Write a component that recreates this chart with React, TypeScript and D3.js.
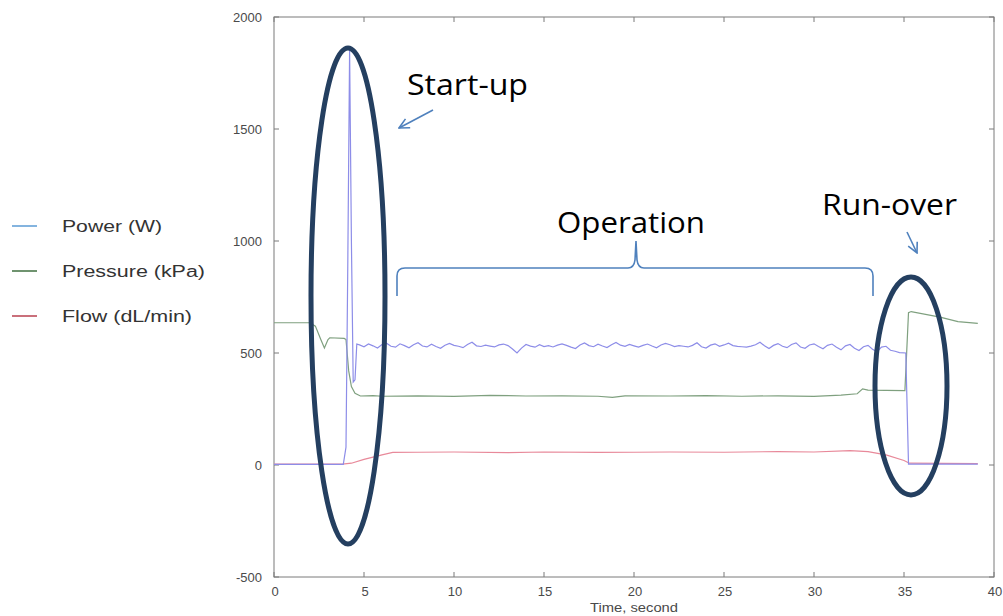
import React from "react";
import * as d3 from "d3";

// ---------- data ----------
const xTicks = [0, 5, 10, 15, 20, 25, 30, 35, 40];
const yTicks = [-500, 0, 500, 1000, 1500, 2000];

const legendLabels = ["Power (W)", "Pressure (kPa)", "Flow (dL/min)"];

// Power (W): start-up section
const powerStartT = [0, 3.85, 4.0, 4.1, 4.2, 4.3, 4.4, 4.5, 4.6];
const powerStartV = [3, 3, 80, 900, 1850, 1000, 370, 380, 540];
// Power: operation section, sampled every 0.25 s from 4.75 s
const powerOpStart = 4.75;
const powerOpStep = 0.25;
const powerOpV = [
  536, 528, 540, 532, 522, 538, 544, 530, 526, 541, 533, 523, 537, 546, 531, 527, 539, 529, 521, 535, 543,
  534, 530, 524, 538, 548, 532, 529, 535, 531, 527, 536, 540, 533, 518, 500, 522, 538, 531, 526, 537, 529,
  533, 527, 535, 541, 534, 526, 520, 536, 545, 533, 528, 539, 531, 524, 537, 547, 535, 530, 538, 532, 526,
  534, 540, 531, 523, 536, 543, 537, 529, 533, 530, 527, 534, 546, 528, 522, 535, 541, 530, 536, 544, 533,
  530, 528, 526, 531, 537, 548, 532, 520, 534, 542, 530, 524, 538, 545, 527, 521, 536, 541, 529, 519, 534,
  540, 526, 514, 532, 538, 521, 511, 528, 534, 517, 506, 526, 530, 512, 508, 502,
];
// Power: run-over section
const powerEndT = [35.1, 35.25, 39.1];
const powerEndV = [500, 4, 4];

// Pressure (kPa)
const pressureT = [0, 2.0, 2.3, 2.6, 2.8, 3.0, 3.1, 3.9, 4.0, 4.15, 4.3, 4.5, 4.8, 5.5, 6, 8, 10, 12, 14, 16, 18, 18.8, 19.5, 22, 24, 26, 28, 30, 31.5, 32.4, 32.7, 33, 34, 35.05, 35.25, 35.4, 37, 38, 39.1];
const pressureV = [635, 635, 620, 560, 522, 560, 568, 565, 560, 420, 350, 320, 308, 310, 307, 309, 306, 311, 308, 309, 307, 302, 309, 308, 310, 307, 309, 306, 312, 318, 340, 334, 333, 332, 680, 685, 660, 640, 632];

// Flow (dL/min)
const flowT = [0, 3.8, 4.3, 5, 6, 6.6, 8, 10, 13, 15, 18, 20, 22, 25, 28, 30, 32, 33, 34, 35, 35.3, 39.1];
const flowV = [4, 4, 8, 25, 45, 56, 57, 58, 55, 58, 56, 57, 58, 57, 60, 58, 64, 60, 45, 20, 8, 6];

// ---------- chart ----------
const W = 1003;
const H = 616;
const plot = { left: 274, right: 994, top: 17, bottom: 577 };

const x = d3.scaleLinear().domain([0, 40]).range([plot.left, plot.right]);
const y = d3.scaleLinear().domain([-500, 2000]).range([plot.bottom, plot.top]);

const line = d3
  .line<[number, number]>()
  .x((d) => x(d[0]))
  .y((d) => y(d[1]));

const zip = (t: number[], v: number[]) => t.map((ti, i) => [ti, v[i]] as [number, number]);

const powerData: [number, number][] = [
  ...zip(powerStartT, powerStartV),
  ...powerOpV.map((v, i) => [powerOpStart + i * powerOpStep, v] as [number, number]),
  ...zip(powerEndT, powerEndV),
];
const pressureData = zip(pressureT, pressureV);
const flowData = zip(flowT, flowV);

const axisColor = "#7a7a7a";
const tickTextColor = "#4a4a4a";
const tickFont = "Liberation Sans, Arial, sans-serif";
const annFont = "Open Sans, Noto Sans, sans-serif";
const navy = "#243f60";
const annBlue = "#4f81bd";

export default function App() {
  const braceY = 268;
  const braceL = 397;
  const braceR = 873;
  const braceMid = 636;
  const braceBottom = 296;
  const braceTop = 241;
  const bracePath = [
    `M${braceL},${braceBottom}`,
    `L${braceL},${braceY + 8}`,
    `Q${braceL},${braceY} ${braceL + 8},${braceY}`,
    `L${braceMid - 8},${braceY}`,
    `Q${braceMid - 2},${braceY} ${braceMid - 1},${braceY - 8}`,
    `L${braceMid},${braceTop}`,
    `L${braceMid + 1},${braceY - 8}`,
    `Q${braceMid + 2},${braceY} ${braceMid + 8},${braceY}`,
    `L${braceR - 8},${braceY}`,
    `Q${braceR},${braceY} ${braceR},${braceY + 8}`,
    `L${braceR},${braceBottom}`,
  ].join(" ");

  const legendColors = ["#5b9bd5", "#3f6f3f", "#b8404f"];
  const legendYs = [226, 271, 316];
  const legendWidths = [100, 143, 130];

  return (
    <svg
      width={W}
      height={H}
      viewBox={`0 0 ${W} ${H}`}
      style={{ position: "absolute", left: 0, top: 0, background: "#fff" }}
    >
      <defs>
        <marker id="arrowHead" viewBox="0 0 12 12" refX="11" refY="6" markerWidth="12" markerHeight="12" orient="auto" markerUnits="userSpaceOnUse">
          <path d="M1,1 L11,6 L1,11" fill="none" stroke={annBlue} strokeWidth={1.6} />
        </marker>
      </defs>

      {/* axes box */}
      <rect
        x={plot.left}
        y={plot.top}
        width={plot.right - plot.left}
        height={plot.bottom - plot.top}
        fill="none"
        stroke={axisColor}
        strokeWidth={1}
      />
      {/* x ticks */}
      {xTicks.map((t) => (
        <g key={"xt" + t}>
          <line x1={x(t)} x2={x(t)} y1={plot.bottom} y2={plot.bottom - 5} stroke={axisColor} />
          <line x1={x(t)} x2={x(t)} y1={plot.top} y2={plot.top + 5} stroke={axisColor} />
          <text x={x(t) + 1} y={plot.bottom + 19} textAnchor="middle" fontFamily={tickFont} fontSize={13} fill={tickTextColor}>
            {t}
          </text>
        </g>
      ))}
      {/* y ticks */}
      {yTicks.map((v) => (
        <g key={"yt" + v}>
          <line x1={plot.left} x2={plot.left + 5} y1={y(v)} y2={y(v)} stroke={axisColor} />
          <line x1={plot.right} x2={plot.right - 5} y1={y(v)} y2={y(v)} stroke={axisColor} />
          <text x={plot.left - 12} y={y(v) + 5} textAnchor="end" fontFamily={tickFont} fontSize={13} fill={tickTextColor}>
            {v}
          </text>
        </g>
      ))}
      <text
        x={590}
        y={612}
        fontFamily={tickFont}
        fontSize={13}
        fill={tickTextColor}
        textLength={88}
        lengthAdjust="spacingAndGlyphs"
      >
        Time, second
      </text>

      {/* series */}
      <path d={line(flowData) || ""} fill="none" stroke="#e8899a" strokeWidth={1.2} />
      <path d={line(pressureData) || ""} fill="none" stroke="#7fa07f" strokeWidth={1.2} />
      <path d={line(powerData) || ""} fill="none" stroke="#8d8de8" strokeWidth={1.2} />

      {/* legend */}
      {legendLabels.map((lab, i) => (
        <g key={lab}>
          <line x1={12} x2={37} y1={legendYs[i]} y2={legendYs[i]} stroke={legendColors[i]} strokeWidth={1.5} />
          <text
            x={62}
            y={legendYs[i] + 6}
            fontFamily={tickFont}
            fontSize={16}
            fill="#333"
            textLength={legendWidths[i]}
            lengthAdjust="spacingAndGlyphs"
          >
            {lab}
          </text>
        </g>
      ))}

      {/* annotations */}
      <ellipse cx={348} cy={296} rx={37} ry={248} fill="none" stroke={navy} strokeWidth={5} />
      <ellipse cx={911} cy={386} rx={36} ry={109} fill="none" stroke={navy} strokeWidth={5} />

      <text x={407} y={95} fontFamily={annFont} fontSize={30} fill="#000" textLength={121} lengthAdjust="spacingAndGlyphs">
        Start-up
      </text>
      <line x1={433} x2={399} y1={110} y2={128} stroke={annBlue} strokeWidth={1.6} markerEnd="url(#arrowHead)" />

      <text x={557} y={233} fontFamily={annFont} fontSize={30} fill="#000" textLength={148} lengthAdjust="spacingAndGlyphs">
        Operation
      </text>
      <path d={bracePath} fill="none" stroke={annBlue} strokeWidth={1.6} />

      <text x={822} y={215} fontFamily={annFont} fontSize={30} fill="#000" textLength={135} lengthAdjust="spacingAndGlyphs">
        Run-over
      </text>
      <line x1={907} x2={917} y1={232} y2={253} stroke={annBlue} strokeWidth={1.6} markerEnd="url(#arrowHead)" />
    </svg>
  );
}
